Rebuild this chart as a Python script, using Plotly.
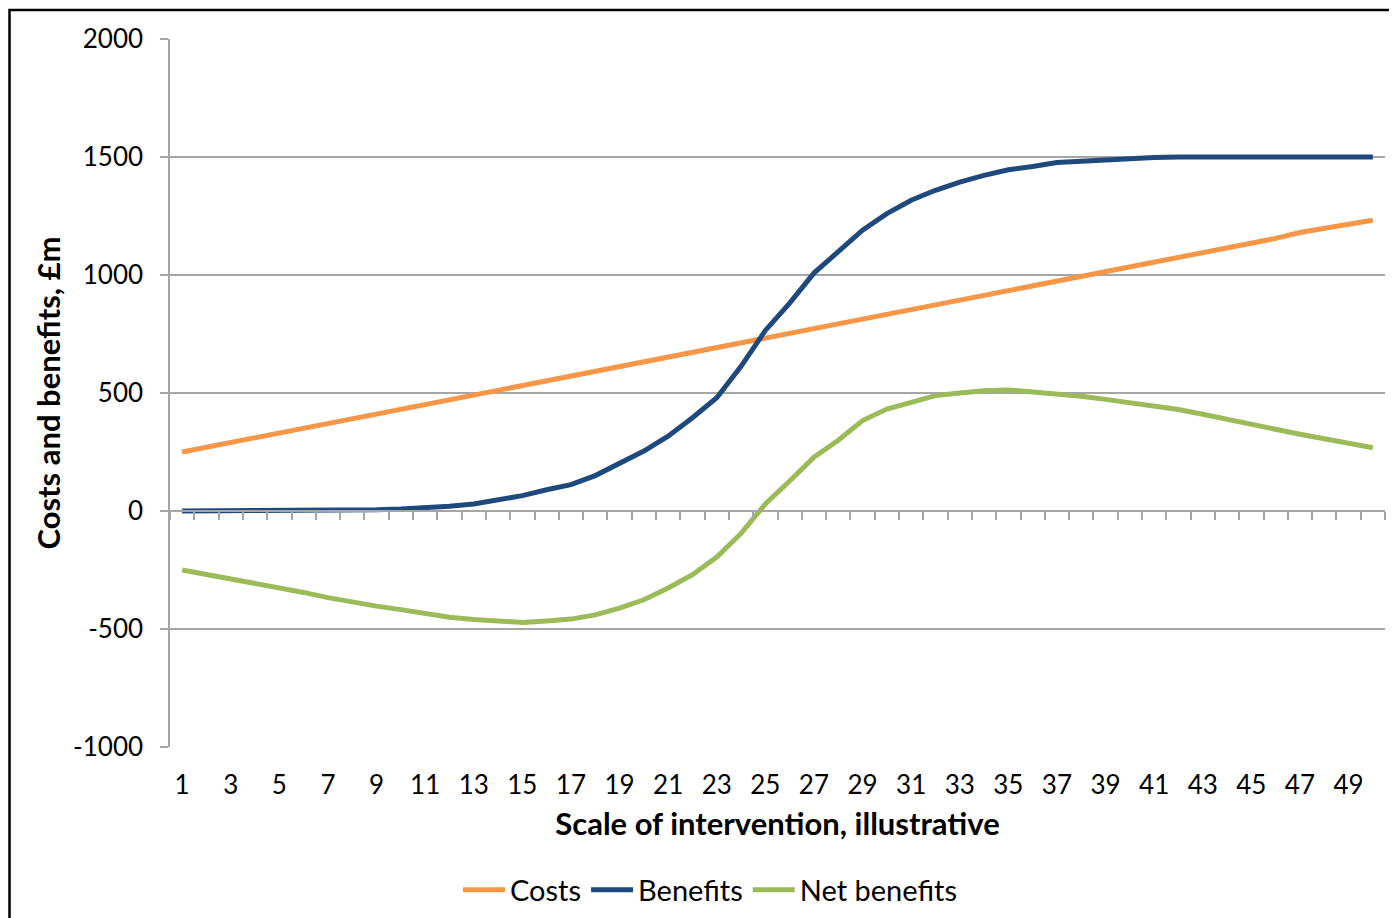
import plotly.graph_objects as go

scale = list(range(1, 51))
costs = [250, 270, 290, 312, 330, 350, 375, 393, 412, 430,
         453, 470, 492, 515, 532, 550, 572, 590, 610, 632,
         650, 670, 690, 712, 730, 750, 772, 792, 812, 834,
         852, 870, 890, 912, 930, 950, 972, 993, 1012, 1032,
         1050, 1070, 1095, 1115, 1135, 1155, 1180, 1200, 1215, 1232]
benefits = [0, 0, 0, 0, 0, 1, 2, 3, 5, 8,
            12, 20, 30, 45, 65, 90, 112, 150, 200, 254,
            317, 395, 480, 613, 765, 881, 1008, 1100, 1190, 1260,
            1317, 1359, 1394, 1422, 1446, 1460, 1477, 1482, 1488, 1494,
            1498, 1500, 1500, 1500, 1500, 1500, 1500, 1500, 1500, 1500]
net_benefits = [-250, -268, -289, -307, -325, -345, -367, -386, -403, -418,
                -436, -450, -460, -468, -472, -466, -458, -440, -412, -376,
                -326, -270, -195, -95, 30, 127, 228, 300, 383, 432,
                460, 489, 500, 510, 513, 505, 498, 486, 473, 460,
                448, 430, 410, 388, 368, 346, 325, 306, 285, 268]
x_tick_labels = [str(v) for v in range(1, 50, 2)]
y_ticks = [-1000, -500, 0, 500, 1000, 1500, 2000]

FONT = "Lato"
GRID = "#A6A6A6"

fig = go.Figure()
fig.add_trace(go.Scatter(x=scale, y=costs, name="Costs", mode="lines",
                         line=dict(color="#F79646", width=5)))
fig.add_trace(go.Scatter(x=scale, y=benefits, name="Benefits", mode="lines",
                         line=dict(color="#1F497D", width=5)))
fig.add_trace(go.Scatter(x=scale, y=net_benefits, name="Net benefits", mode="lines",
                         line=dict(color="#9BBB59", width=5)))

# invisible helper trace so the zero-crossing category axis is drawn
fig.add_trace(go.Scatter(x=scale, y=costs, xaxis="x2", mode="lines",
                         line=dict(width=0), opacity=0, showlegend=False,
                         hoverinfo="skip"))

# page has an 8px body margin, so the figure is offset by (8, 8)
W, H = 1389, 910
L, T = 162, 31
R = W - (1385 - 8)
B = H - (747 - 8)
pw, ph = W - L - R, H - T - B


def px_x(page_x):
    return (page_x - 8 - L) / pw


def px_y(page_y):
    return (H - B - (page_y - 8)) / ph


fig.update_layout(
    width=W, height=H,
    margin=dict(l=L, r=R, t=T, b=B, autoexpand=False),
    paper_bgcolor="white", plot_bgcolor="white",
    font=dict(family=FONT, size=26, color="black"),
    showlegend=True,
    legend=dict(orientation="h", x=px_x(710), xanchor="center",
                y=px_y(890), yanchor="middle",
                font=dict(size=29), itemwidth=42, tracegroupgap=0,
                bgcolor="rgba(0,0,0,0)"),
    xaxis=dict(
        range=[0.5, 50.5], tickmode="array",
        tickvals=list(range(1, 50, 2)), ticktext=x_tick_labels,
        showgrid=False, zeroline=False, showline=False, ticks="",
        ticklabelstandoff=20,
        title=dict(text="<b>Scale of intervention, illustrative</b>",
                   font=dict(size=31), standoff=14),
    ),
    xaxis2=dict(
        overlaying="x", anchor="free", position=1 / 3,
        range=[0.5, 50.5], tickmode="array",
        tickvals=[v + 0.5 for v in range(0, 51)],
        showticklabels=False, ticks="outside", ticklen=8, tickwidth=1.5,
        tickcolor=GRID, showline=True, linecolor=GRID, linewidth=1.5,
        showgrid=False, zeroline=False,
    ),
    yaxis=dict(
        range=[-1000, 2000], tickmode="array", tickvals=y_ticks,
        ticktext=["-1000", "-500", "0", "500", "1000", "1500", "2000"],
        showgrid=True, gridcolor=GRID, gridwidth=1.5,
        zeroline=False, showline=True, linecolor=GRID, linewidth=1.5,
        ticks="outside", ticklen=8, tickcolor=GRID, tickwidth=1.5,
        ticklabelstandoff=12,
        title=dict(text="<b>Costs and benefits, £m</b>", font=dict(size=31),
                   standoff=3),
    ),
    shapes=[dict(type="rect", xref="paper", yref="paper",
                 x0=px_x(9.5), x1=px_x(1397 + 20),
                 y0=px_y(918 + 20), y1=px_y(10),
                 line=dict(color="black", width=2.5), fillcolor="rgba(0,0,0,0)",
                 layer="above")],
)

fig.write_html("out.html")
